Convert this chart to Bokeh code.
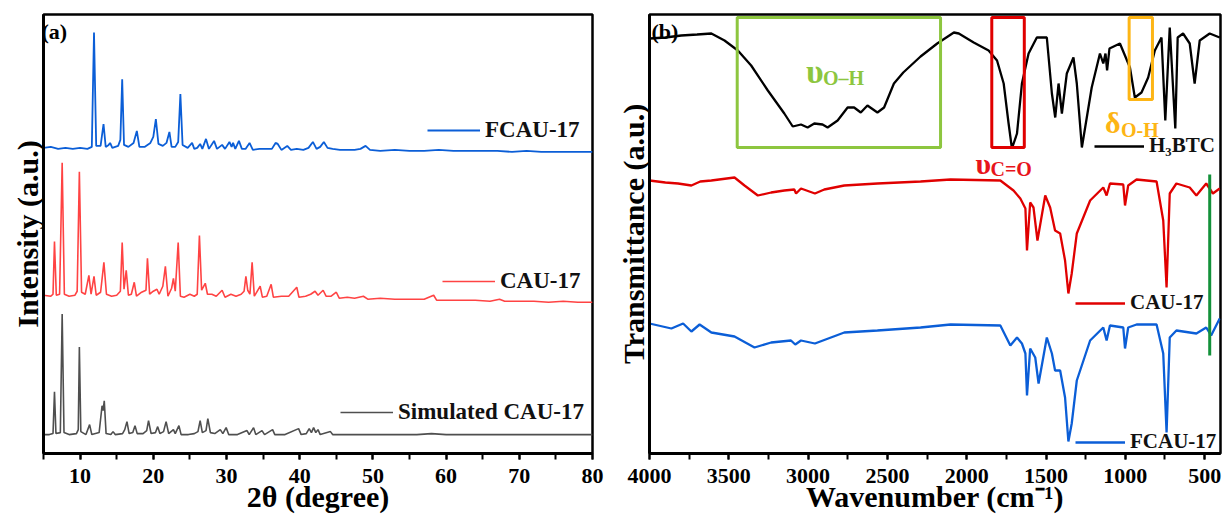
from bokeh.plotting import figure
from bokeh.models import (Range1d, SingleIntervalTicker, FixedTicker, Legend, LegendItem,
                          BoxAnnotation, Label, Arrow)
from bokeh.layouts import row
from bokeh.embed import file_html
from bokeh.resources import INLINE

FONT = "Liberation Serif"

# ---------------- (a) XRD data: 2theta (degree) vs intensity (a.u.) ----------------
tt_fcau = [5.0, 6.0, 7.0, 8.0, 9.0, 10.0, 11.0, 11.6, 11.9, 12.2, 12.8, 13.2, 13.5, 13.9, 14.1, 14.4,
           15.2, 15.5, 15.75, 16.0, 16.6, 17.3, 17.75, 18.1, 18.8, 19.6, 20.0, 20.35, 20.7, 21.3, 21.8,
           22.2, 22.5, 23.0, 23.4, 23.7, 24.0, 24.7, 25.3, 25.6, 26.0, 26.4, 26.7, 27.2, 27.6, 28.3,
           28.7, 29.4, 29.8, 30.4, 30.7, 30.9, 31.2, 31.7, 32.1, 32.6, 33.15, 33.6, 34.5, 35.5, 36.2,
           36.7, 37.0, 37.5, 38.3, 38.8, 39.6, 40.5, 41.2, 41.8, 42.3, 42.8, 43.3, 43.8, 44.5, 45.5,
           46.5, 47.5, 48.3, 49.0, 49.6, 51, 53, 55, 57, 59, 61, 63, 65, 67, 69, 71, 73, 75, 77, 79, 80]
i_fcau = [307, 308, 306, 307, 306, 307, 306, 308, 423, 309, 309, 331, 308, 310, 312, 307,
          309, 315, 376, 310, 308, 312, 324, 308, 308, 312, 318, 336, 311, 309, 312,
          323, 308, 308, 313, 361, 310, 307, 312, 306, 307, 311, 306, 316, 306, 314,
          306, 310, 306, 313, 308, 312, 306, 314, 306, 306, 312, 305, 306, 306, 306,
          312, 311, 305, 309, 305, 306, 305, 307, 313, 306, 308, 313, 307, 306, 305,
          305, 305, 306, 309, 305, 304, 305, 304, 304, 305, 304, 304, 304, 304, 303, 304, 303, 303, 303, 303, 303]

tt_cau = [5.0, 6.0, 6.3, 6.5, 6.75, 7.2, 7.55, 7.85, 8.5, 9.3, 9.6, 9.9, 10.2, 10.7, 11.2, 11.5, 11.9,
          12.2, 12.8, 13.25, 13.6, 14.3, 15.0, 15.5, 15.75, 16.0, 16.3, 16.6, 17.0, 17.4, 17.7, 18.4,
          19.0, 19.2, 19.5, 20.0, 20.5, 20.8, 21.3, 21.65, 22.0, 22.5, 22.75, 23.0, 23.4, 23.7, 24.2,
          25.0, 25.6, 26.0, 26.3, 26.6, 27.1, 27.4, 28.0, 28.6, 29.4, 29.8, 30.6, 31.3, 32.0, 32.4,
          32.65, 32.9, 33.2, 33.5, 33.8, 34.6, 34.9, 35.5, 36.1, 36.4, 37.5, 38.5, 39.6, 39.9, 40.8,
          41.5, 42.1, 42.5, 43.2, 43.6, 44.3, 45.0, 45.4, 46.5, 47.5, 48.7, 49.3, 51, 53, 55, 57,
          58.3, 58.7, 60, 62, 64, 66, 67.3, 68, 70, 72, 74, 76, 78, 80]
i_cau = [159, 158, 160, 213, 159, 160, 292, 160, 158, 159, 163, 283, 162, 160, 179, 160, 178,
         159, 162, 192, 160, 158, 159, 163, 212, 165, 184, 159, 160, 172, 158, 162,
         164, 196, 160, 163, 165, 160, 168, 188, 158, 166, 176, 163, 212, 158, 157,
         160, 158, 160, 219, 164, 171, 160, 160, 158, 164, 157, 160, 158, 160, 163,
         178, 164, 160, 192, 158, 168, 157, 158, 170, 157, 158, 158, 167, 157, 158,
         160, 163, 159, 164, 158, 158, 162, 156, 157, 156, 158, 155, 156, 155, 155, 155,
         159, 154, 154, 154, 154, 153, 155, 153, 153, 153, 152, 153, 152, 152]

tt_sim = [5.0, 5.8, 6.3, 6.5, 6.7, 7.3, 7.55, 7.8, 8.5, 9.5, 9.75, 9.9, 10.1, 10.8, 11.3, 11.6, 12.6,
          13.0, 13.15, 13.3, 13.55, 14.2, 14.5, 14.8, 15.8, 16.1, 16.4, 16.7, 17.2, 17.5, 17.8, 18.6,
          19.1, 19.35, 19.7, 20.3, 20.6, 20.9, 21.4, 21.75, 22.1, 22.75, 23.0, 23.5, 23.8, 24.8, 25.6,
          26.1, 26.4, 26.7, 27.2, 27.45, 27.8, 28.4, 29.15, 29.5, 29.95, 30.3, 31.5, 32.8, 33.1, 33.7,
          34.0, 34.85, 35.2, 36.3, 36.6, 38.0, 39.85, 40.2, 40.9, 41.3, 41.6, 41.9, 42.2, 42.5, 42.8,
          44.2, 44.5, 46, 48, 50, 52, 54, 56, 58, 60, 62, 64, 66, 68, 70, 72, 74, 76, 78, 80]
i_sim = [19, 19, 20, 62, 20, 21, 140, 21, 19, 20, 24, 107, 22, 19, 29, 19, 21,
         48, 43, 53, 20, 19, 22, 19, 20, 24, 32, 20, 21, 28, 20, 20,
         23, 33, 20, 21, 27, 20, 22, 32, 20, 24, 20, 28, 19, 19, 20,
         22, 33, 21, 23, 35, 21, 20, 24, 20, 26, 19, 19, 23, 19, 26,
         19, 23, 19, 24, 19, 19, 25, 19, 20, 25, 21, 26, 21, 24, 19,
         22, 19, 19, 19, 19, 19, 19, 19, 20, 19, 19, 19, 19, 19, 19, 19, 19, 19, 19, 19]

xrd_ticks_step = 10

# ---------------- (b) FTIR data: wavenumber (cm-1) vs transmittance (a.u.) ----------------
wn_h3btc = [4000, 3900, 3800, 3700, 3610, 3527, 3443, 3359, 3254, 3150, 3097, 3045, 3003, 2961, 2909,
            2877, 2814, 2751, 2710, 2668, 2626, 2563, 2521, 2459, 2400, 2291, 2186, 2081, 2050, 1956,
            1862, 1809, 1767, 1736, 1715, 1683, 1652, 1610, 1558, 1495, 1463, 1442, 1421, 1400, 1369,
            1327, 1306, 1274, 1243, 1212, 1160, 1139, 1125, 1115, 1100, 1034, 971, 940, 898, 856,
            814, 772, 748, 720, 685, 670, 636, 594, 563, 531, 468, 405]
t_h3btc = [415, 416, 418, 419, 420, 413, 403, 388, 363, 340, 327, 329, 326, 330, 329,
           326, 333, 346, 346, 341, 348, 341, 346, 370, 381, 397, 410, 421, 420, 411,
           403, 393, 370, 330, 305, 320, 370, 400, 416, 416, 360, 336, 370, 340, 380,
           396, 370, 306, 336, 366, 400, 390, 400, 383, 405, 410, 386, 356, 361, 376,
           403, 416, 333, 426, 325, 416, 420, 410, 370, 413, 420, 416]

wn_cau = [4000, 3900, 3820, 3736, 3680, 3610, 3464, 3401, 3317, 3233, 3150, 3087, 3076, 3045, 2957,
          2898, 2772, 2563, 2291, 2102, 1788, 1705, 1662, 1630, 1620, 1600, 1579, 1554, 1505, 1474,
          1443, 1411, 1380, 1359, 1338, 1306, 1222, 1139, 1118, 1097, 1013, 1002, 982, 929, 803,
          761, 740, 720, 678, 594, 552, 490, 448, 405]
t_cau = [273, 271, 270, 268, 272, 273, 276, 268, 258, 261, 263, 264, 260, 265, 260,
         264, 268, 270, 272, 274, 273, 263, 255, 245, 203, 251, 246, 213, 258, 246,
         223, 220, 193, 160, 180, 220, 253, 266, 258, 270, 269, 248, 268, 274, 272,
         233, 166, 260, 270, 266, 258, 270, 260, 265]

wn_fcau = [4000, 3862, 3788, 3736, 3684, 3610, 3464, 3338, 3233, 3108, 3081, 3045, 2957, 2772, 2563,
           2291, 2102, 1788, 1725, 1683, 1652, 1630, 1620, 1600, 1568, 1547, 1495, 1463, 1443, 1411,
           1380, 1359, 1338, 1306, 1222, 1139, 1118, 1097, 1013, 1002, 982, 929, 803, 761, 740,
           720, 678, 552, 490, 459, 405]
t_fcau = [130, 125, 130, 122, 129, 121, 117, 106, 111, 113, 109, 113, 110, 121, 123,
          126, 129, 128, 108, 116, 110, 100, 58, 105, 96, 70, 116, 100, 83, 83,
          56, 12, 30, 73, 113, 126, 113, 128, 126, 105, 126, 129, 129, 100, 21,
          116, 123, 120, 126, 118, 135]

for xs, ys in ((tt_fcau, i_fcau), (tt_cau, i_cau), (tt_sim, i_sim),
               (wn_h3btc, t_h3btc), (wn_cau, t_cau), (wn_fcau, t_fcau)):
    assert len(xs) == len(ys), (len(xs), len(ys))

# annotation regions (wavenumber / transmittance units)
box_oh = (3447, 2165, 306, 436)     # left, right, bottom, top
box_co = (1842, 1637, 306, 436)
box_doh = (976, 829, 354, 436)
green_mark = (468, 98, 279)         # x, y_start, y_end

C_BLUE = "#0b5ed7"
C_RED_XRD = "#ff4343"
C_GRAY = "#4f4f4f"
C_RED = "#e00000"
C_GREEN_L = "#8dc63f"
C_ORANGE = "#fdb515"
C_GREEN_D = "#13913a"


def style(p):
    p.xgrid.visible = False
    p.ygrid.visible = False
    p.outline_line_color = "black"
    p.outline_line_width = 2.5
    p.outline_line_alpha = 1
    p.background_fill_color = "white"
    for ax in (p.xaxis[0], p.yaxis[0]):
        ax.axis_line_width = 3
        ax.axis_line_color = "black"
        ax.major_tick_line_width = 2
        ax.minor_tick_line_width = 2
        ax.major_tick_in = 0
        ax.minor_tick_in = 0
        ax.major_tick_out = 6
        ax.minor_tick_out = 6
        ax.major_label_text_font = FONT
        ax.major_label_text_font_style = "bold"
        ax.major_label_text_font_size = "22px"
        ax.major_label_text_color = "black"
        ax.major_label_standoff = 9
        ax.axis_label_text_font = FONT
        ax.axis_label_text_font_style = "bold"
        ax.axis_label_text_font_size = "30px"
        ax.axis_label_text_color = "black"
        ax.axis_label_standoff = -6
    p.yaxis[0].axis_label_standoff = 0
    p.yaxis[0].ticker = FixedTicker(ticks=[])


def add_legend(p, label, renderer, loc, size, gw):
    lg = Legend(items=[LegendItem(label=label, renderers=[renderer])], location=loc,
                background_fill_alpha=0, border_line_alpha=0, padding=0, margin=0, spacing=0,
                label_text_font=FONT, label_text_font_style="bold", label_text_font_size=size,
                label_text_color="#111111", glyph_width=gw, glyph_height=24, label_height=24,
                label_standoff=5)
    p.add_layout(lg)


# ---------------- panel (a) ----------------
p1 = figure(width=613, height=523, x_range=Range1d(5, 80), y_range=Range1d(0, 441),
            output_backend="svg", toolbar_location=None,
            min_border_left=43, min_border_right=21, min_border_top=14, min_border_bottom=68)
style(p1)
p1.xaxis[0].ticker = SingleIntervalTicker(interval=xrd_ticks_step, num_minor_ticks=2)
p1.xaxis[0].axis_label = "2θ (degree)"
p1.yaxis[0].axis_label = "Intensity (a.u.)"

r_sim = p1.line(tt_sim, i_sim, color=C_GRAY, line_width=1.6)
r_cau = p1.line(tt_cau, i_cau, color=C_RED_XRD, line_width=1.6)
r_fcau = p1.line(tt_fcau, i_fcau, color=C_BLUE, line_width=1.8)

add_legend(p1, "FCAU-17", r_fcau, (384, 310), "23px", 53)
add_legend(p1, "CAU-17", r_cau, (399, 159), "23px", 53)
add_legend(p1, "Simulated CAU-17", r_sim, (297, 28), "23px", 53)

# ---------------- panel (b) ----------------
p2 = figure(width=610, height=523, x_range=Range1d(4000, 400), y_range=Range1d(0, 439),
            output_backend="svg", toolbar_location=None,
            min_border_left=35, min_border_right=3, min_border_top=14, min_border_bottom=70)
style(p2)
p2.xaxis[0].ticker = SingleIntervalTicker(interval=500, num_minor_ticks=2)
p2.xaxis[0].axis_label = "Wavenumber (cm⁻¹)"
p2.yaxis[0].axis_label = "Transmittance (a.u.)"

for (l, r, b, t), col in ((box_oh, C_GREEN_L), (box_co, C_RED), (box_doh, C_ORANGE)):
    p2.add_layout(BoxAnnotation(left=l, right=r, bottom=b, top=t, fill_alpha=0,
                                line_color=col, line_width=3, line_alpha=1))

rb_h = p2.line(wn_h3btc, t_h3btc, color="black", line_width=2.3)
rb_c = p2.line(wn_cau, t_cau, color=C_RED, line_width=2.3)
rb_f = p2.line(wn_fcau, t_fcau, color=C_BLUE, line_width=2.3)

p2.add_layout(Arrow(x_start=green_mark[0], y_start=green_mark[1], x_end=green_mark[0],
                    y_end=green_mark[2], end=None, line_color=C_GREEN_D, line_width=3))

add_legend(p2, "H₃BTC", rb_h, (445, 295), "21px", 50)
add_legend(p2, "CAU-17", rb_c, (426, 138), "21px", 50)
add_legend(p2, "FCAU-17", rb_f, (426, -1), "21px", 50)


def greek(p, x, y, big, sub, col, bsize, dx, dy):
    p.add_layout(Label(x=x, y=y, text=big, text_font=FONT, text_font_style="bold",
                       text_font_size=bsize, text_color=col, text_baseline="alphabetic"))
    p.add_layout(Label(x=x, y=y, x_offset=dx, y_offset=-dy, text=sub, text_font=FONT,
                       text_font_style="bold", text_font_size="20px", text_color=col,
                       text_baseline="alphabetic"))


greek(p2, 3014, 382, "υ", "O–H", C_GREEN_L, "34px", 17, 6)
greek(p2, 1945, 290, "υ", "C=O", "#e8141b", "30px", 15, 5)
greek(p2, 1128, 331, "δ", "O-H", C_ORANGE, "30px", 16, 7)

p1.add_layout(Label(x=5, y=441, text="(a)", x_offset=-2, y_offset=-4,
                    text_font=FONT, text_font_style="bold", text_font_size="22px",
                    text_baseline="top", text_color="black"))
p2.add_layout(Label(x=4000, y=439, text="(b)", x_offset=2, y_offset=-4,
                    text_font=FONT, text_font_style="bold", text_font_size="22px",
                    text_baseline="top", text_color="black"))

layout = row(p1, p2)
open("out.html", "w").write(file_html(layout, INLINE))
